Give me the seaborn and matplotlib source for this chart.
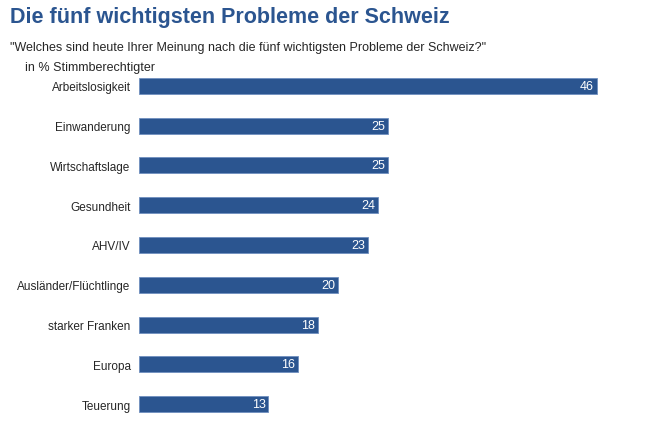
import matplotlib
matplotlib.use("Agg")
import matplotlib.pyplot as plt
import seaborn as sns
import pandas as pd

categories = ["Arbeitslosigkeit", "Einwanderung", "Wirtschaftslage", "Gesundheit",
              "AHV/IV", "Ausländer/Flüchtlinge", "starker Franken", "Europa", "Teuerung"]
values = [46, 25, 25, 24, 23, 20, 18, 16, 13]

title = "Die fünf wichtigsten Probleme der Schweiz"
question = "\"Welches sind heute Ihrer Meinung nach die fünf wichtigsten Probleme der Schweiz?\""
unit = "in % Stimmberechtigter"

blue = "#2B5590"

sns.set_theme(style="white")
plt.rcParams["font.family"] = ["Liberation Sans", "DejaVu Sans"]

df = pd.DataFrame({"Problem": categories, "Wert": values})

fig = plt.figure(figsize=(6.7, 4.31), dpi=100)
ax = fig.add_axes([139 / 670, 6 / 431, 498 / 670, 358 / 431])

sns.barplot(data=df, x="Wert", y="Problem", color=blue, width=0.4,
            saturation=1, ax=ax, edgecolor="#6f8fbf", linewidth=0.6)

for i, v in enumerate(values):
    ax.text(v - 0.3, i, str(v), color="white", ha="right", va="center", fontsize=9)

ax.set_xlim(0, 50)
ax.set_xlabel("")
ax.set_ylabel("")
ax.set_xticks([])
ax.tick_params(axis="y", length=0, pad=6, labelsize=8.5)
for s in ax.spines.values():
    s.set_visible(False)

fig.text(10 / 670, 1 - 18 / 431, title, color=blue, fontsize=15.5, fontweight="bold",
         ha="left", va="center")
fig.text(10 / 670, 1 - 48 / 431, question, fontsize=9, ha="left", va="center")
fig.text(25 / 670, 1 - 68 / 431, unit, fontsize=9, ha="left", va="center")

fig.savefig("out.png", dpi=100)
